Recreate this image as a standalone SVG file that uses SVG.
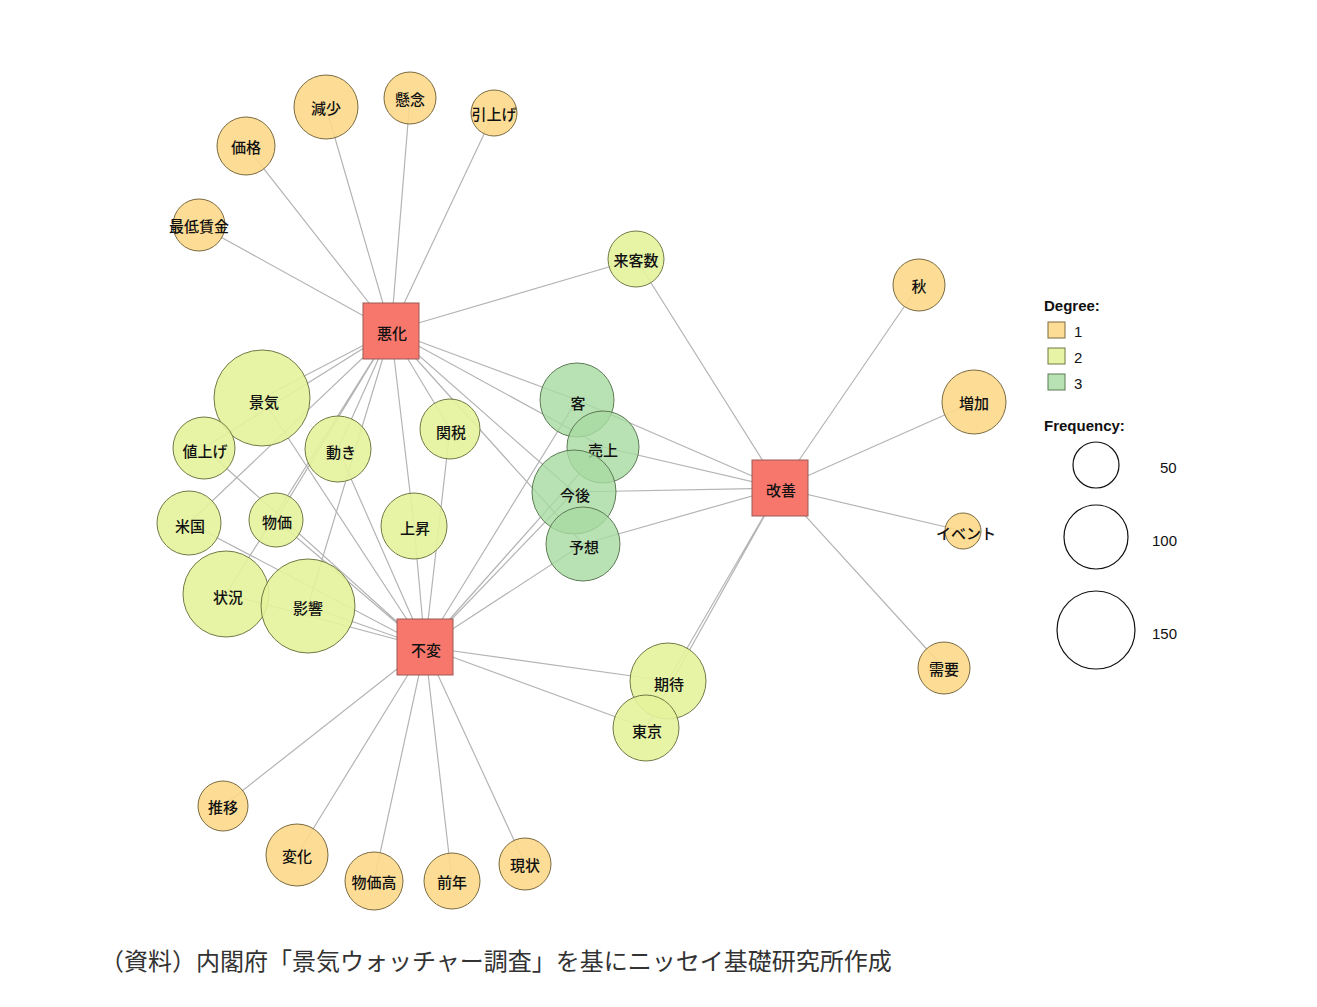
<svg xmlns="http://www.w3.org/2000/svg" width="1317" height="1007" viewBox="0 0 1317 1007">
<style>
.e{stroke:#b4b4b4;stroke-width:1.2}
.d1{fill:#fdd98a;stroke:#7a6a40;stroke-width:1;fill-opacity:0.9}
.d2{fill:#e4f39b;stroke:#6f7a45;stroke-width:1;fill-opacity:0.9}
.d3{fill:#a7dba1;stroke:#5d7a55;stroke-width:1;fill-opacity:0.8}
.hub{fill:#f8776c;stroke:#9a5a55;stroke-width:1}
text{font-family:"Noto Sans CJK JP","Liberation Sans",sans-serif;font-size:15px;font-weight:500;text-anchor:middle;dominant-baseline:central;fill:#111}
.lg{font-family:"Liberation Sans",Arial,sans-serif;font-size:15px;font-weight:normal;text-anchor:start}
.lgb{font-family:"Liberation Sans",Arial,sans-serif;font-size:15px;font-weight:bold;text-anchor:start}
.leg{fill:none;stroke:#111;stroke-width:1.2}
</style>
<rect width="1317" height="1007" fill="#fff"/>
<g id="edges">
<path class="e" d="M391 331L326 107M391 331L410 98M391 331L494 113M391 331L246 146M391 331L199 225M391 331L636 259M391 331L262 398M391 331L204 448M391 331L338 449M391 331L450 429M391 331L189 523M391 331L276 520M391 331L414 526M391 331L226 594M391 331L308 606M391 331L577 400M391 331L603 447M391 331L574 492M391 331L583 544"/>
<path class="e" d="M425 647L262 398M425 647L204 448M425 647L338 449M425 647L450 429M425 647L189 523M425 647L276 520M425 647L414 526M425 647L226 594M425 647L308 606M425 647L577 400M425 647L603 447M425 647L574 492M425 647L583 544M425 647L668 681M425 647L646 728M425 647L223 806M425 647L297 855M425 647L374 881M425 647L452 881M425 647L525 864"/>
<path class="e" d="M780 488L636 259M780 488L577 400M780 488L603 447M780 488L574 492M780 488L583 544M780 488L668 681M780 488L646 728M780 488L919 285M780 488L974 402M780 488L963 531M780 488L944 668"/>
</g>
<g id="n-gensho"><circle class="d1" cx="326" cy="107" r="32"/><text x="326" y="107">減少</text></g>
<g id="n-kenen"><circle class="d1" cx="410" cy="98" r="26"/><text x="410" y="98">懸念</text></g>
<g id="n-hikiage"><circle class="d1" cx="494" cy="113" r="23"/><text x="494" y="113">引上げ</text></g>
<g id="n-kakaku"><circle class="d1" cx="246" cy="146" r="29"/><text x="246" y="146">価格</text></g>
<g id="n-saitei"><circle class="d1" cx="199" cy="225" r="26"/><text x="199" y="225">最低賃金</text></g>
<g id="n-aki"><circle class="d1" cx="919" cy="285" r="26"/><text x="919" y="285">秋</text></g>
<g id="n-zoka"><circle class="d1" cx="974" cy="402" r="32"/><text x="974" y="402">増加</text></g>
<g id="n-event"><circle class="d1" cx="963" cy="531" r="18"/><text x="966" y="532">イベント</text></g>
<g id="n-juyo"><circle class="d1" cx="944" cy="668" r="26"/><text x="944" y="668">需要</text></g>
<g id="n-suii"><circle class="d1" cx="223" cy="806" r="25"/><text x="223" y="806">推移</text></g>
<g id="n-henka"><circle class="d1" cx="297" cy="855" r="31"/><text x="297" y="855">変化</text></g>
<g id="n-bukkadaka"><circle class="d1" cx="374" cy="881" r="29"/><text x="374" y="881">物価高</text></g>
<g id="n-zennen"><circle class="d1" cx="452" cy="881" r="28"/><text x="452" y="881">前年</text></g>
<g id="n-genjo"><circle class="d1" cx="525" cy="864" r="26"/><text x="525" y="864">現状</text></g>
<g id="n-raikyaku"><circle class="d2" cx="636" cy="259" r="28"/><text x="636" y="259">来客数</text></g>
<g id="n-keiki"><circle class="d2" cx="262" cy="398" r="48"/><text x="264" y="401">景気</text></g>
<g id="n-neage"><circle class="d2" cx="204" cy="448" r="31"/><text x="205" y="450">値上げ</text></g>
<g id="n-ugoki"><circle class="d2" cx="338" cy="449" r="33"/><text x="341" y="451">動き</text></g>
<g id="n-kanzei"><circle class="d2" cx="450" cy="429" r="30"/><text x="451" y="431">関税</text></g>
<g id="n-beikoku"><circle class="d2" cx="189" cy="523" r="32"/><text x="190" y="525">米国</text></g>
<g id="n-bukka"><circle class="d2" cx="276" cy="520" r="27"/><text x="277" y="521">物価</text></g>
<g id="n-josho"><circle class="d2" cx="414" cy="526" r="33"/><text x="415" y="527">上昇</text></g>
<g id="n-jokyo"><circle class="d2" cx="226" cy="594" r="43"/><text x="228" y="596">状況</text></g>
<g id="n-eikyo"><circle class="d2" cx="308" cy="606" r="47"/><text x="308" y="607">影響</text></g>
<g id="n-kitai"><circle class="d2" cx="668" cy="681" r="38"/><text x="669" y="683">期待</text></g>
<g id="n-tokyo"><circle class="d2" cx="646" cy="728" r="33"/><text x="647" y="730">東京</text></g>
<g id="n-kyaku"><circle class="d3" cx="577" cy="400" r="37"/><text x="578" y="402">客</text></g>
<g id="n-uriage"><circle class="d3" cx="603" cy="447" r="36"/><text x="603" y="449">売上</text></g>
<g id="n-kongo"><circle class="d3" cx="574" cy="492" r="42"/><text x="575" y="494">今後</text></g>
<g id="n-yoso"><circle class="d3" cx="583" cy="544" r="37"/><text x="584" y="546">予想</text></g>
<g id="n-akka"><rect class="hub" x="363" y="303" width="56" height="56"/><text x="392" y="332">悪化</text></g>
<g id="n-fuhen"><rect class="hub" x="397" y="619" width="56" height="56"/><text x="426" y="649">不変</text></g>
<g id="n-kaizen"><rect class="hub" x="752" y="460" width="56" height="56"/><text x="781" y="489">改善</text></g>
<g id="legend">
<text class="lgb" x="1044" y="305">Degree:</text>
<rect class="d1" x="1048" y="322" width="17" height="16"/><text class="lg" x="1074" y="331">1</text>
<rect class="d2" x="1048" y="348" width="17" height="16"/><text class="lg" x="1074" y="357">2</text>
<rect class="d3" x="1048" y="374" width="17" height="16"/><text class="lg" x="1074" y="383">3</text>
<text class="lgb" x="1044" y="425">Frequency:</text>
<circle class="leg" cx="1096" cy="465" r="23"/><text class="lg" x="1160" y="467">50</text>
<circle class="leg" cx="1096" cy="537" r="32"/><text class="lg" x="1152" y="540">100</text>
<circle class="leg" cx="1096" cy="630" r="39"/><text class="lg" x="1152" y="633">150</text>
</g>
<text x="100" y="959" style="font-size:24px;font-weight:normal;text-anchor:start;fill:#333;font-family:'Noto Sans CJK JP',sans-serif">（資料）内閣府「景気ウォッチャー調査」を基にニッセイ基礎研究所作成</text>
</svg>
